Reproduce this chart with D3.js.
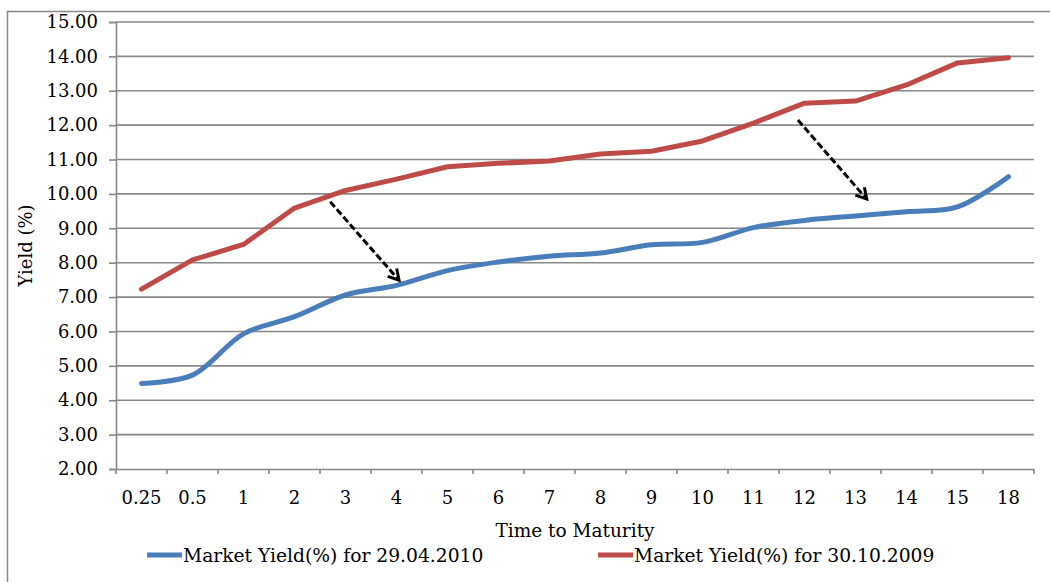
<!DOCTYPE html>
<html>
<head>
<meta charset="utf-8">
<script src="https://cdn.jsdelivr.net/npm/d3@7"></script>
<style>
    html, body { margin: 0; padding: 0; background: #fff; }
    svg text { font-family: "DejaVu Serif", serif; fill: #000; }
</style>
</head>
<body>
<svg id="chart" width="1050" height="582"></svg>
<script>
// maturities (years) on the category axis
const maturities = ["0.25", "0.5", "1", "2", "3", "4", "5", "6", "7", "8", "9", "10", "11", "12", "13", "14", "15", "18"]
// market yields (%)
const yield2010 = [4.49, 4.73, 5.93, 6.43, 7.06, 7.34, 7.77, 8.02, 8.19, 8.28, 8.52, 8.59, 9.02, 9.23, 9.36, 9.48, 9.62, 10.50]
const yield2009 = [7.23, 8.08, 8.53, 9.59, 10.10, 10.43, 10.79, 10.89, 10.96, 11.16, 11.24, 11.54, 12.06, 12.64, 12.70, 13.17, 13.81, 13.96]
const yTicks = [2, 3, 4, 5, 6, 7, 8, 9, 10, 11, 12, 13, 14, 15]
const seriesNames = ["Market Yield(%) for 29.04.2010", "Market Yield(%) for 30.10.2009"]
// dashed arrows, in (category index, yield) terms
const shifts = [
    { from: [3.70, 9.77], to: [5.05, 7.49] },
    { from: [12.87, 12.15], to: [14.22, 9.85] }
]

const blue = "#4a7ebb", red = "#be4b48", grid = "#888888"
const plotLeft = 116, plotRight = 1034, plotTop = 22, plotBottom = 469

const svg = d3.select("#chart")

// outer chart border (clipped on right / bottom like the original)
svg.append("rect")
    .attr("x", 7.5).attr("y", 11.5)
    .attr("width", 1100).attr("height", 620)
    .attr("fill", "#fff")
    .attr("stroke", grid).attr("stroke-width", 1.5)

const x = d3.scaleBand().domain(maturities).range([plotLeft, plotRight])
const xi = d3.scaleLinear().domain([-0.5, maturities.length - 0.5]).range([plotLeft, plotRight])
const y = d3.scaleLinear().domain([2, 15]).range([plotBottom, plotTop])

// horizontal gridlines
svg.append("g")
    .selectAll("line")
    .data(yTicks.slice(1))
    .enter()
    .append("line")
    .attr("x1", plotLeft).attr("x2", plotRight)
    .attr("y1", d => y(d)).attr("y2", d => y(d))
    .attr("stroke", grid).attr("stroke-width", 1.6)

// y axis
const yAxis = d3.axisLeft(y).tickValues(yTicks).tickSize(7).tickPadding(11).tickFormat(d => d.toFixed(2))
const gy = svg.append("g").attr("transform", `translate(${plotLeft},0)`).call(yAxis)
gy.select(".domain").attr("stroke", grid).attr("stroke-width", 1.6)
gy.selectAll(".tick line").attr("stroke", grid).attr("stroke-width", 1.6)
gy.selectAll(".tick text").attr("font-size", 18).attr("font-family", "DejaVu Serif")

// x axis, ticks between categories
const xAxis = d3.axisBottom(x).tickSize(0).tickPadding(22)
const gx = svg.append("g").attr("transform", `translate(0,${plotBottom})`).call(xAxis)
gx.select(".domain").attr("stroke", grid).attr("stroke-width", 1.6)
gx.selectAll(".tick text").attr("font-size", 18).attr("font-family", "DejaVu Serif")
gx.selectAll("line.sep")
    .data(maturities.concat(["end"]))
    .enter()
    .append("line")
    .attr("class", "sep")
    .attr("x1", (d, i) => plotLeft + i * x.step())
    .attr("x2", (d, i) => plotLeft + i * x.step())
    .attr("y1", 0).attr("y2", 5)
    .attr("stroke", grid).attr("stroke-width", 1.6)

// axis titles
svg.append("text")
    .attr("x", (plotLeft + plotRight) / 2).attr("y", 537)
    .attr("text-anchor", "middle").attr("font-size", 18.5)
    .text("Time to Maturity")
svg.append("text")
    .attr("transform", `translate(32,${(plotTop + plotBottom) / 2}) rotate(-90)`)
    .attr("text-anchor", "middle").attr("font-size", 18)
    .text("Yield (%)")

// series lines
const cx = (d, i) => x(maturities[i]) + x.bandwidth() / 2
const smooth = d3.line().x(cx).y(d => y(d)).curve(d3.curveCatmullRom.alpha(0.5))
const straight = d3.line().x(cx).y(d => y(d))

svg.append("path")
    .attr("d", straight(yield2009))
    .attr("fill", "none").attr("stroke", red).attr("stroke-width", 5)
    .attr("stroke-linejoin", "round").attr("stroke-linecap", "round")
svg.append("path")
    .attr("d", smooth(yield2010))
    .attr("fill", "none").attr("stroke", blue).attr("stroke-width", 5)
    .attr("stroke-linejoin", "round").attr("stroke-linecap", "round")

// dashed shift arrows
shifts.forEach(s => {
    const x1 = xi(s.from[0]), y1 = y(s.from[1])
    const x2 = xi(s.to[0]), y2 = y(s.to[1])
    const ang = Math.atan2(y2 - y1, x2 - x1)
    svg.append("line")
        .attr("x1", x1).attr("y1", y1).attr("x2", x2).attr("y2", y2)
        .attr("stroke", "#000").attr("stroke-width", 3)
        .attr("stroke-dasharray", "7,3")
    const len = 12, spread = Math.PI / 6
    const wing = a => [x2 - len * Math.cos(a), y2 - len * Math.sin(a)]
    const w1 = wing(ang - spread), w2 = wing(ang + spread)
    svg.append("path")
        .attr("d", `M${w1[0]},${w1[1]}L${x2},${y2}L${w2[0]},${w2[1]}`)
        .attr("fill", "none").attr("stroke", "#000").attr("stroke-width", 3)
})

// legend
const legend = svg.append("g")
const legendPos = [147, 598]
seriesNames.forEach((name, i) => {
    const lx = legendPos[i]
    legend.append("line")
        .attr("x1", lx).attr("x2", lx + 35)
        .attr("y1", 555).attr("y2", 555)
        .attr("stroke", i === 0 ? blue : red).attr("stroke-width", 5)
    legend.append("text")
        .attr("x", lx + 36).attr("y", 561.5)
        .attr("font-size", 18.7)
        .text(name)
})
</script>
</body>
</html>
